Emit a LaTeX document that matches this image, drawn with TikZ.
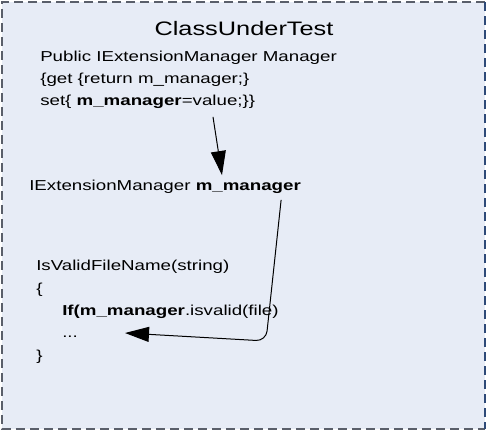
\documentclass[tikz,border=0pt]{standalone}
\usepackage{fontspec}
\setmainfont{Liberation Sans}
\usetikzlibrary{arrows.meta}

\definecolor{boxfill}{HTML}{E7ECF6}
\definecolor{boxedge}{HTML}{5A5F6A}
\definecolor{boxedgeb}{HTML}{2E4A78}

\tikzset{
  code/.style={anchor=west,inner sep=0pt,transform shape,xscale=1.3,font=\fontsize{14.4}{17}\selectfont},
  ptr/.style={-{Triangle[length=24pt,width=15pt]},line width=1pt},
  edge/.style={line width=2.5pt,dash pattern=on 9pt off 5pt},
}

\begin{document}
\begin{tikzpicture}[x=1pt,y=-1pt]
  \useasboundingbox (0,0) rectangle (489,431);
  \fill[boxfill] (2,2) rectangle (485,429);
  \draw[edge,boxedge] (485,2) -- (2,2) -- (2,429) -- (485,429);
  \draw[edge,boxedgeb] (485,2) -- (485,429);

  \node[inner sep=0pt,transform shape,xscale=1.3,font=\fontsize{19.5}{23}\selectfont] (title) at (244,29) {ClassUnderTest};

  \node[code] (prop) at (40,58) {Public IExtensionManager Manager};
  \node[code] (getter) at (40,80) {\{get \{return m\_manager;\}};
  \node[code] (setter) at (40,102) {set\{ \textbf{m\_manager}=value;\}\}};

  \node[code] (field) at (29,187) {IExtensionManager \textbf{m\_manager}};

  \node[code] (method) at (36,267) {IsValidFileName(string)};
  \node[code] (open) at (36,290) {\{};
  \node[code] (call) at (62,312) {\textbf{If(m\_manager}.isvalid(file)};
  \node[code] (dots) at (62,337) {...};
  \node[code] (close) at (36,357) {\}};

  \coordinate (bend) at (266,341);

  \draw[ptr] ([xshift=173pt,yshift=-8pt]setter.south west) -- ([xshift=193pt,yshift=5pt]field.north west);
  \draw[ptr,rounded corners=10pt] ([xshift=-20pt,yshift=-6pt]field.south east) -- (bend) -- ([xshift=63pt,yshift=4pt]dots.west);
\end{tikzpicture}
\end{document}
